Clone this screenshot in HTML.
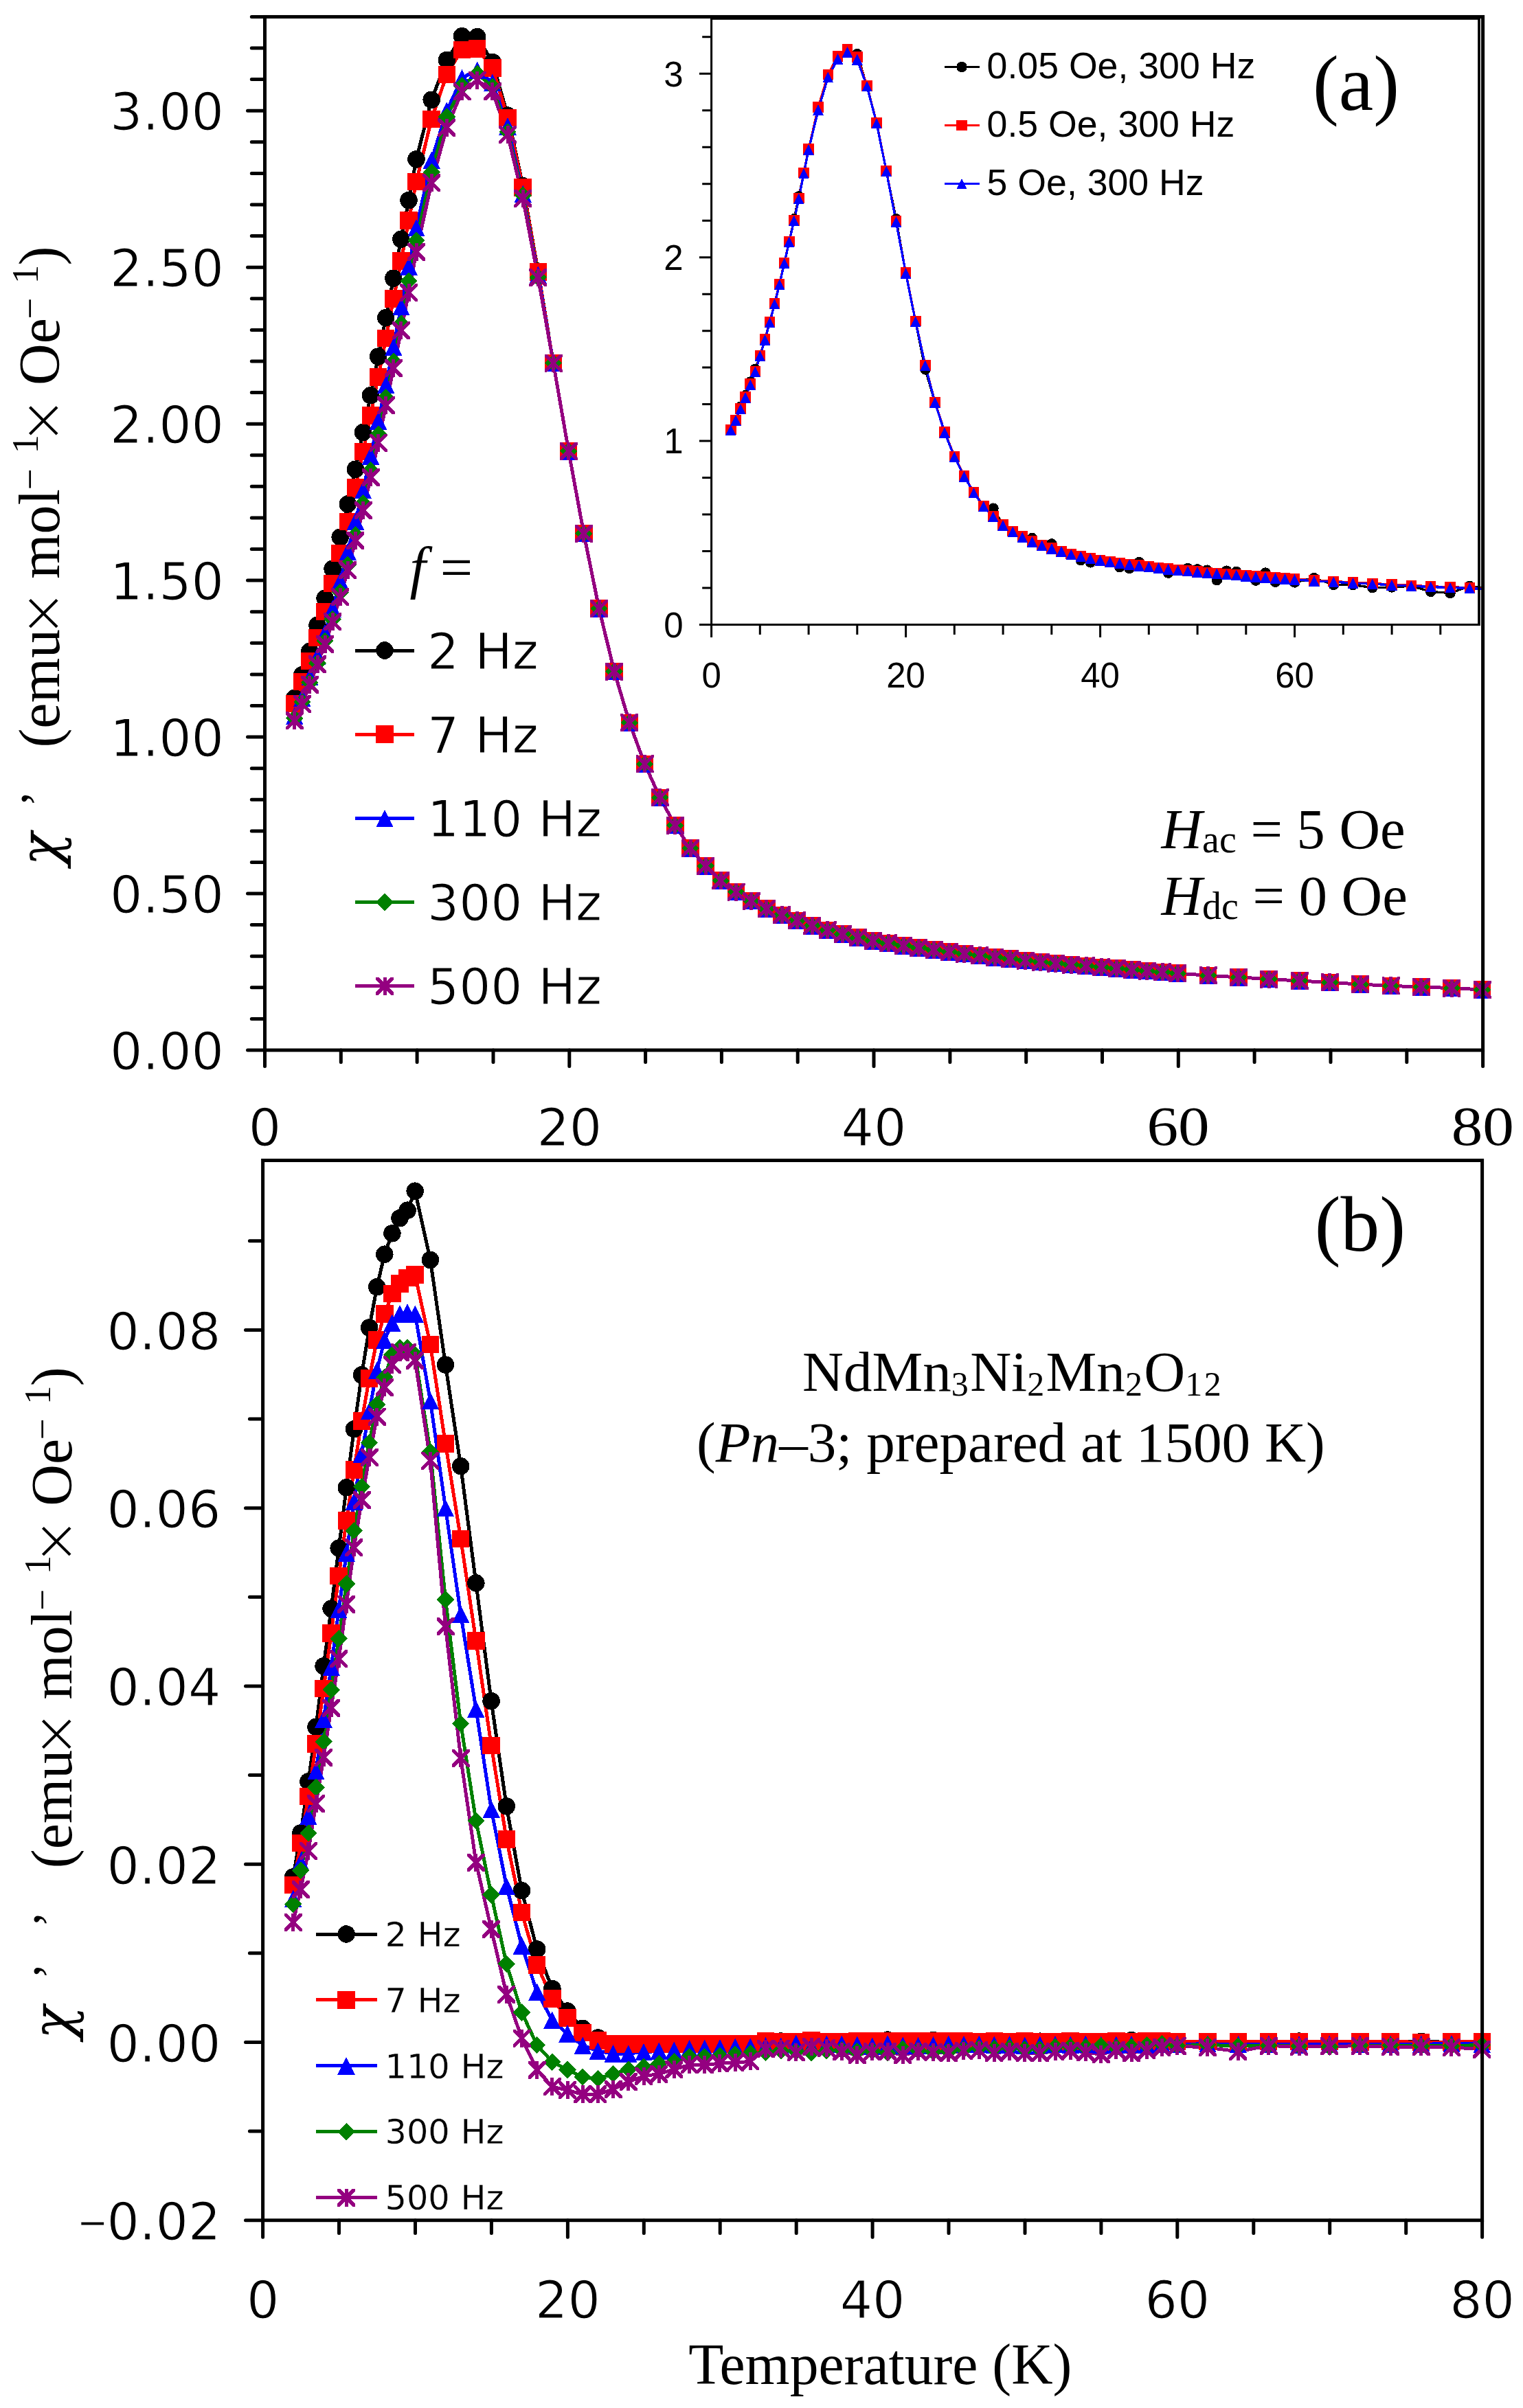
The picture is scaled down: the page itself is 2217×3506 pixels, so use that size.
<!DOCTYPE html>
<html lang="en"><head><meta charset="utf-8"><title>AC susceptibility of NdMn3Ni2Mn2O12</title>
<style>html,body{margin:0;padding:0;background:#fff}svg{display:block}.s{font-family:"DejaVu Sans","Liberation Sans",sans-serif;stroke:#fff;stroke-width:1.1px;paint-order:fill stroke}.t{font-family:"Liberation Serif",serif}.h{font-family:"Liberation Sans",sans-serif}.x{font-family:"DejaVu Sans Light","DejaVu Sans",sans-serif;font-weight:200}.c{font-family:"DejaVu Serif","Liberation Serif",serif;font-style:italic}.ax{stroke:#000;stroke-width:5;stroke-linecap:round;fill:none}.ix{stroke:#000;stroke-width:3;stroke-linecap:butt;fill:none}</style></head><body>
<svg width="2217" height="3506" viewBox="0 0 2217 3506">
<rect width="2217" height="3506" fill="#fff"/>
<defs><marker id="mk" markerUnits="userSpaceOnUse" markerWidth="33.5" markerHeight="33.5" refX="0" refY="0" viewBox="-16.75 -16.75 33.5 33.5" overflow="visible" shape-rendering="crispEdges"><circle r="12.75" fill="#000"/></marker><marker id="mr" markerUnits="userSpaceOnUse" markerWidth="33.5" markerHeight="33.5" refX="0" refY="0" viewBox="-16.75 -16.75 33.5 33.5" overflow="visible" shape-rendering="crispEdges"><rect x="-12.75" y="-12.75" width="25.50" height="25.50" fill="#f00"/></marker><marker id="mb" markerUnits="userSpaceOnUse" markerWidth="33.5" markerHeight="33.5" refX="0" refY="0" viewBox="-16.75 -16.75 33.5 33.5" overflow="visible" shape-rendering="crispEdges"><path d="M0 -12.75L12.75 12.75H-12.75Z" fill="#00f"/></marker><marker id="mg" markerUnits="userSpaceOnUse" markerWidth="33.5" markerHeight="33.5" refX="0" refY="0" viewBox="-16.75 -16.75 33.5 33.5" overflow="visible" shape-rendering="crispEdges"><path d="M0 -12.75L12.75 0L0 12.75L-12.75 0Z" fill="#008000"/></marker><marker id="mp" markerUnits="userSpaceOnUse" markerWidth="33.5" markerHeight="33.5" refX="0" refY="0" viewBox="-16.75 -16.75 33.5 33.5" overflow="visible" shape-rendering="crispEdges"><path d="M-13.00 -13.00h3.80L13.00 9.20v3.80h-3.80L-13.00 -9.20ZM13.00 -13.00v3.80L-9.20 13.00h-3.80v-3.80L9.20 -13.00ZM-2.50 -13.00h5v26.00h-5Z" fill="#940080"/></marker><marker id="nk" markerUnits="userSpaceOnUse" markerWidth="23.6" markerHeight="23.6" refX="0" refY="0" viewBox="-11.8 -11.8 23.6 23.6" overflow="visible" shape-rendering="crispEdges"><circle r="7.80" fill="#000"/></marker><marker id="nr" markerUnits="userSpaceOnUse" markerWidth="23.6" markerHeight="23.6" refX="0" refY="0" viewBox="-11.8 -11.8 23.6 23.6" overflow="visible" shape-rendering="crispEdges"><rect x="-7.80" y="-7.80" width="15.60" height="15.60" fill="#f00"/></marker><marker id="nb" markerUnits="userSpaceOnUse" markerWidth="23.6" markerHeight="23.6" refX="0" refY="0" viewBox="-11.8 -11.8 23.6 23.6" overflow="visible" shape-rendering="crispEdges"><path d="M0 -7.80L7.80 7.80H-7.80Z" fill="#00f"/></marker><marker id="ng" markerUnits="userSpaceOnUse" markerWidth="23.6" markerHeight="23.6" refX="0" refY="0" viewBox="-11.8 -11.8 23.6 23.6" overflow="visible" shape-rendering="crispEdges"><path d="M0 -7.80L7.80 0L0 7.80L-7.80 0Z" fill="#008000"/></marker><marker id="np" markerUnits="userSpaceOnUse" markerWidth="23.6" markerHeight="23.6" refX="0" refY="0" viewBox="-11.8 -11.8 23.6 23.6" overflow="visible" shape-rendering="crispEdges"><path d="M-8.05 -8.05h2.28L8.05 5.77v2.28h-2.28L-8.05 -5.77ZM8.05 -8.05v2.28L-5.77 8.05h-2.28v-2.28L5.77 -8.05ZM-1.50 -8.05h3v16.10h-3Z" fill="#940080"/></marker></defs>
<polyline shape-rendering="crispEdges" points="428.7,1016.5 439.8,982.8 450.9,948.2 462.0,910.3 473.1,871.1 484.1,828.2 495.2,782.2 506.3,733.9 517.4,683.3 528.5,629.5 539.5,575.7 550.6,519.1 561.7,462.6 572.8,405.1 583.9,348.2 595.0,291.6 606.0,231.9 628.2,145.3 650.4,87.4 672.5,52.7 694.7,53.6 716.9,90.6 739.0,168.1 761.2,270.6 783.3,395.1 805.5,528.7 827.7,656.8 849.8,776.7 872.0,886.1 894.2,977.5 916.3,1052.3 938.5,1112.4 960.7,1161.3 982.8,1201.7 1005.0,1235.2 1027.1,1260.8 1049.3,1282.2 1071.5,1298.6 1093.6,1311.7 1115.8,1323.2 1138.0,1332.4 1160.1,1340.3 1182.3,1347.8 1204.5,1354.4 1226.6,1360.0 1248.8,1365.2 1270.9,1369.8 1293.1,1373.4 1315.3,1376.8 1337.4,1380.0 1359.6,1383.1 1381.8,1386.0 1403.9,1388.7 1426.1,1391.3 1448.3,1393.8 1470.4,1396.1 1492.6,1398.5 1514.8,1400.6 1536.9,1402.6 1559.1,1404.5 1581.2,1406.4 1603.4,1408.3 1625.6,1410.1 1647.7,1411.9 1669.9,1413.7 1692.1,1415.4 1714.2,1417.1 1758.6,1420.3 1802.9,1422.9 1847.2,1425.5 1891.5,1428.1 1935.9,1430.4 1980.2,1433.1 2024.5,1435.4 2068.8,1437.0 2113.2,1438.6 2157.5,1440.9" fill="none" stroke="#000" stroke-width="5" stroke-linejoin="round"/>
<polyline shape-rendering="crispEdges" points="428.7,1024.7 439.8,992.4 450.9,962.7 462.0,928.5 473.1,890.7 484.1,849.7 495.2,805.4 506.3,759.4 517.4,710.2 528.5,657.7 539.5,604.8 550.6,549.2 561.7,492.7 572.8,435.2 583.9,380.1 595.0,320.8 606.0,264.7 628.2,173.5 650.4,108.3 672.5,72.3 694.7,71.0 716.9,98.8 739.0,171.3 761.2,272.9 783.3,396.0 805.5,528.7 827.7,656.8 849.8,776.7 872.0,886.1 894.2,977.5 916.3,1052.3 938.5,1112.4 960.7,1161.3 982.8,1201.7 1005.0,1235.2 1027.1,1260.8 1049.3,1282.2 1071.5,1298.6 1093.6,1311.7 1115.8,1323.2 1138.0,1332.4 1160.1,1340.3 1182.3,1347.8 1204.5,1354.4 1226.6,1360.0 1248.8,1365.2 1270.9,1369.8 1293.1,1373.4 1315.3,1376.8 1337.4,1380.0 1359.6,1383.1 1381.8,1386.0 1403.9,1388.7 1426.1,1391.3 1448.3,1393.8 1470.4,1396.1 1492.6,1398.5 1514.8,1400.6 1536.9,1402.6 1559.1,1404.5 1581.2,1406.4 1603.4,1408.3 1625.6,1410.1 1647.7,1411.9 1669.9,1413.7 1692.1,1415.4 1714.2,1417.1 1758.6,1420.3 1802.9,1422.9 1847.2,1425.5 1891.5,1428.1 1935.9,1430.4 1980.2,1433.1 2024.5,1435.4 2068.8,1437.0 2113.2,1438.6 2157.5,1440.9" fill="none" stroke="#f00" stroke-width="5" stroke-linejoin="round"/>
<polyline shape-rendering="crispEdges" points="428.7,1042.1 439.8,1016.1 450.9,985.5 462.0,955.4 473.1,921.7 484.1,886.1 495.2,846.0 506.3,803.6 517.4,758.9 528.5,713.4 539.5,664.1 550.6,613.0 561.7,560.6 572.8,505.0 583.9,446.6 595.0,387.8 606.0,331.7 628.2,233.3 650.4,161.2 672.5,113.4 694.7,102.0 716.9,120.2 739.0,184.0 761.2,282.0 783.3,400.6 805.5,528.7 827.7,656.8 849.8,776.7 872.0,886.1 894.2,977.5 916.3,1052.3 938.5,1112.4 960.7,1161.3 982.8,1201.7 1005.0,1235.2 1027.1,1260.8 1049.3,1282.2 1071.5,1298.6 1093.6,1311.7 1115.8,1323.2 1138.0,1332.4 1160.1,1340.3 1182.3,1347.8 1204.5,1354.4 1226.6,1360.0 1248.8,1365.2 1270.9,1369.8 1293.1,1373.4 1315.3,1376.8 1337.4,1380.0 1359.6,1383.1 1381.8,1386.0 1403.9,1388.7 1426.1,1391.3 1448.3,1393.8 1470.4,1396.1 1492.6,1398.5 1514.8,1400.6 1536.9,1402.6 1559.1,1404.5 1581.2,1406.4 1603.4,1408.3 1625.6,1410.1 1647.7,1411.9 1669.9,1413.7 1692.1,1415.4 1714.2,1417.1 1758.6,1420.3 1802.9,1422.9 1847.2,1425.5 1891.5,1428.1 1935.9,1430.4 1980.2,1433.1 2024.5,1435.4 2068.8,1437.0 2113.2,1438.6 2157.5,1440.9" fill="none" stroke="#00f" stroke-width="5" stroke-linejoin="round"/>
<polyline shape-rendering="crispEdges" points="428.7,1045.7 439.8,1022.0 450.9,993.7 462.0,965.5 473.1,933.1 484.1,901.6 495.2,862.4 506.3,822.3 517.4,778.5 528.5,733.0 539.5,684.6 550.6,632.2 561.7,578.9 572.8,526.4 583.9,471.3 595.0,408.8 606.0,350.0 628.2,250.6 650.4,169.9 672.5,124.8 694.7,107.4 716.9,126.1 739.0,192.2 761.2,284.3 783.3,403.8 805.5,528.7 827.7,656.8 849.8,776.7 872.0,886.1 894.2,977.5 916.3,1052.3 938.5,1112.4 960.7,1161.3 982.8,1201.7 1005.0,1235.2 1027.1,1260.8 1049.3,1282.2 1071.5,1298.6 1093.6,1311.7 1115.8,1323.2 1138.0,1332.4 1160.1,1340.3 1182.3,1347.8 1204.5,1354.4 1226.6,1360.0 1248.8,1365.2 1270.9,1369.8 1293.1,1373.4 1315.3,1376.8 1337.4,1380.0 1359.6,1383.1 1381.8,1386.0 1403.9,1388.7 1426.1,1391.3 1448.3,1393.8 1470.4,1396.1 1492.6,1398.5 1514.8,1400.6 1536.9,1402.6 1559.1,1404.5 1581.2,1406.4 1603.4,1408.3 1625.6,1410.1 1647.7,1411.9 1669.9,1413.7 1692.1,1415.4 1714.2,1417.1 1758.6,1420.3 1802.9,1422.9 1847.2,1425.5 1891.5,1428.1 1935.9,1430.4 1980.2,1433.1 2024.5,1435.4 2068.8,1437.0 2113.2,1438.6 2157.5,1440.9" fill="none" stroke="#008000" stroke-width="5" stroke-linejoin="round"/>
<polyline shape-rendering="crispEdges" points="428.7,1049.4 439.8,1024.7 450.9,996.5 462.0,967.3 473.1,937.7 484.1,905.3 495.2,869.3 506.3,830.1 517.4,787.2 528.5,743.0 539.5,695.1 550.6,644.5 561.7,590.3 572.8,536.0 583.9,481.3 595.0,426.1 606.0,366.8 628.2,266.1 650.4,185.8 672.5,133.4 694.7,116.5 716.9,133.4 739.0,195.9 761.2,288.9 783.3,404.2 805.5,528.7 827.7,656.8 849.8,776.7 872.0,886.1 894.2,977.5 916.3,1052.3 938.5,1112.4 960.7,1161.3 982.8,1201.7 1005.0,1235.2 1027.1,1260.8 1049.3,1282.2 1071.5,1298.6 1093.6,1311.7 1115.8,1323.2 1138.0,1332.4 1160.1,1340.3 1182.3,1347.8 1204.5,1354.4 1226.6,1360.0 1248.8,1365.2 1270.9,1369.8 1293.1,1373.4 1315.3,1376.8 1337.4,1380.0 1359.6,1383.1 1381.8,1386.0 1403.9,1388.7 1426.1,1391.3 1448.3,1393.8 1470.4,1396.1 1492.6,1398.5 1514.8,1400.6 1536.9,1402.6 1559.1,1404.5 1581.2,1406.4 1603.4,1408.3 1625.6,1410.1 1647.7,1411.9 1669.9,1413.7 1692.1,1415.4 1714.2,1417.1 1758.6,1420.3 1802.9,1422.9 1847.2,1425.5 1891.5,1428.1 1935.9,1430.4 1980.2,1433.1 2024.5,1435.4 2068.8,1437.0 2113.2,1438.6 2157.5,1440.9" fill="none" stroke="#940080" stroke-width="5" stroke-linejoin="round"/>
<polyline points="428.7,1016.5 439.8,982.8 450.9,948.2 462.0,910.3 473.1,871.1 484.1,828.2 495.2,782.2 506.3,733.9 517.4,683.3 528.5,629.5 539.5,575.7 550.6,519.1 561.7,462.6 572.8,405.1 583.9,348.2 595.0,291.6 606.0,231.9 628.2,145.3 650.4,87.4 672.5,52.7 694.7,53.6 716.9,90.6 739.0,168.1 761.2,270.6 783.3,395.1 805.5,528.7 827.7,656.8 849.8,776.7 872.0,886.1 894.2,977.5 916.3,1052.3 938.5,1112.4 960.7,1161.3 982.8,1201.7 1005.0,1235.2 1027.1,1260.8 1049.3,1282.2 1071.5,1298.6 1093.6,1311.7 1115.8,1323.2 1138.0,1332.4 1160.1,1340.3 1182.3,1347.8 1204.5,1354.4 1226.6,1360.0 1248.8,1365.2 1270.9,1369.8 1293.1,1373.4 1315.3,1376.8 1337.4,1380.0 1359.6,1383.1 1381.8,1386.0 1403.9,1388.7 1426.1,1391.3 1448.3,1393.8 1470.4,1396.1 1492.6,1398.5 1514.8,1400.6 1536.9,1402.6 1559.1,1404.5 1581.2,1406.4 1603.4,1408.3 1625.6,1410.1 1647.7,1411.9 1669.9,1413.7 1692.1,1415.4 1714.2,1417.1 1758.6,1420.3 1802.9,1422.9 1847.2,1425.5 1891.5,1428.1 1935.9,1430.4 1980.2,1433.1 2024.5,1435.4 2068.8,1437.0 2113.2,1438.6 2157.5,1440.9" fill="none" stroke="none" marker-mid="url(#mk)" marker-start="url(#mk)" marker-end="url(#mk)"/>
<polyline points="428.7,1024.7 439.8,992.4 450.9,962.7 462.0,928.5 473.1,890.7 484.1,849.7 495.2,805.4 506.3,759.4 517.4,710.2 528.5,657.7 539.5,604.8 550.6,549.2 561.7,492.7 572.8,435.2 583.9,380.1 595.0,320.8 606.0,264.7 628.2,173.5 650.4,108.3 672.5,72.3 694.7,71.0 716.9,98.8 739.0,171.3 761.2,272.9 783.3,396.0 805.5,528.7 827.7,656.8 849.8,776.7 872.0,886.1 894.2,977.5 916.3,1052.3 938.5,1112.4 960.7,1161.3 982.8,1201.7 1005.0,1235.2 1027.1,1260.8 1049.3,1282.2 1071.5,1298.6 1093.6,1311.7 1115.8,1323.2 1138.0,1332.4 1160.1,1340.3 1182.3,1347.8 1204.5,1354.4 1226.6,1360.0 1248.8,1365.2 1270.9,1369.8 1293.1,1373.4 1315.3,1376.8 1337.4,1380.0 1359.6,1383.1 1381.8,1386.0 1403.9,1388.7 1426.1,1391.3 1448.3,1393.8 1470.4,1396.1 1492.6,1398.5 1514.8,1400.6 1536.9,1402.6 1559.1,1404.5 1581.2,1406.4 1603.4,1408.3 1625.6,1410.1 1647.7,1411.9 1669.9,1413.7 1692.1,1415.4 1714.2,1417.1 1758.6,1420.3 1802.9,1422.9 1847.2,1425.5 1891.5,1428.1 1935.9,1430.4 1980.2,1433.1 2024.5,1435.4 2068.8,1437.0 2113.2,1438.6 2157.5,1440.9" fill="none" stroke="none" marker-mid="url(#mr)" marker-start="url(#mr)" marker-end="url(#mr)"/>
<polyline points="428.7,1042.1 439.8,1016.1 450.9,985.5 462.0,955.4 473.1,921.7 484.1,886.1 495.2,846.0 506.3,803.6 517.4,758.9 528.5,713.4 539.5,664.1 550.6,613.0 561.7,560.6 572.8,505.0 583.9,446.6 595.0,387.8 606.0,331.7 628.2,233.3 650.4,161.2 672.5,113.4 694.7,102.0 716.9,120.2 739.0,184.0 761.2,282.0 783.3,400.6 805.5,528.7 827.7,656.8 849.8,776.7 872.0,886.1 894.2,977.5 916.3,1052.3 938.5,1112.4 960.7,1161.3 982.8,1201.7 1005.0,1235.2 1027.1,1260.8 1049.3,1282.2 1071.5,1298.6 1093.6,1311.7 1115.8,1323.2 1138.0,1332.4 1160.1,1340.3 1182.3,1347.8 1204.5,1354.4 1226.6,1360.0 1248.8,1365.2 1270.9,1369.8 1293.1,1373.4 1315.3,1376.8 1337.4,1380.0 1359.6,1383.1 1381.8,1386.0 1403.9,1388.7 1426.1,1391.3 1448.3,1393.8 1470.4,1396.1 1492.6,1398.5 1514.8,1400.6 1536.9,1402.6 1559.1,1404.5 1581.2,1406.4 1603.4,1408.3 1625.6,1410.1 1647.7,1411.9 1669.9,1413.7 1692.1,1415.4 1714.2,1417.1 1758.6,1420.3 1802.9,1422.9 1847.2,1425.5 1891.5,1428.1 1935.9,1430.4 1980.2,1433.1 2024.5,1435.4 2068.8,1437.0 2113.2,1438.6 2157.5,1440.9" fill="none" stroke="none" marker-mid="url(#mb)" marker-start="url(#mb)" marker-end="url(#mb)"/>
<polyline points="428.7,1045.7 439.8,1022.0 450.9,993.7 462.0,965.5 473.1,933.1 484.1,901.6 495.2,862.4 506.3,822.3 517.4,778.5 528.5,733.0 539.5,684.6 550.6,632.2 561.7,578.9 572.8,526.4 583.9,471.3 595.0,408.8 606.0,350.0 628.2,250.6 650.4,169.9 672.5,124.8 694.7,107.4 716.9,126.1 739.0,192.2 761.2,284.3 783.3,403.8 805.5,528.7 827.7,656.8 849.8,776.7 872.0,886.1 894.2,977.5 916.3,1052.3 938.5,1112.4 960.7,1161.3 982.8,1201.7 1005.0,1235.2 1027.1,1260.8 1049.3,1282.2 1071.5,1298.6 1093.6,1311.7 1115.8,1323.2 1138.0,1332.4 1160.1,1340.3 1182.3,1347.8 1204.5,1354.4 1226.6,1360.0 1248.8,1365.2 1270.9,1369.8 1293.1,1373.4 1315.3,1376.8 1337.4,1380.0 1359.6,1383.1 1381.8,1386.0 1403.9,1388.7 1426.1,1391.3 1448.3,1393.8 1470.4,1396.1 1492.6,1398.5 1514.8,1400.6 1536.9,1402.6 1559.1,1404.5 1581.2,1406.4 1603.4,1408.3 1625.6,1410.1 1647.7,1411.9 1669.9,1413.7 1692.1,1415.4 1714.2,1417.1 1758.6,1420.3 1802.9,1422.9 1847.2,1425.5 1891.5,1428.1 1935.9,1430.4 1980.2,1433.1 2024.5,1435.4 2068.8,1437.0 2113.2,1438.6 2157.5,1440.9" fill="none" stroke="none" marker-mid="url(#mg)" marker-start="url(#mg)" marker-end="url(#mg)"/>
<polyline points="428.7,1049.4 439.8,1024.7 450.9,996.5 462.0,967.3 473.1,937.7 484.1,905.3 495.2,869.3 506.3,830.1 517.4,787.2 528.5,743.0 539.5,695.1 550.6,644.5 561.7,590.3 572.8,536.0 583.9,481.3 595.0,426.1 606.0,366.8 628.2,266.1 650.4,185.8 672.5,133.4 694.7,116.5 716.9,133.4 739.0,195.9 761.2,288.9 783.3,404.2 805.5,528.7 827.7,656.8 849.8,776.7 872.0,886.1 894.2,977.5 916.3,1052.3 938.5,1112.4 960.7,1161.3 982.8,1201.7 1005.0,1235.2 1027.1,1260.8 1049.3,1282.2 1071.5,1298.6 1093.6,1311.7 1115.8,1323.2 1138.0,1332.4 1160.1,1340.3 1182.3,1347.8 1204.5,1354.4 1226.6,1360.0 1248.8,1365.2 1270.9,1369.8 1293.1,1373.4 1315.3,1376.8 1337.4,1380.0 1359.6,1383.1 1381.8,1386.0 1403.9,1388.7 1426.1,1391.3 1448.3,1393.8 1470.4,1396.1 1492.6,1398.5 1514.8,1400.6 1536.9,1402.6 1559.1,1404.5 1581.2,1406.4 1603.4,1408.3 1625.6,1410.1 1647.7,1411.9 1669.9,1413.7 1692.1,1415.4 1714.2,1417.1 1758.6,1420.3 1802.9,1422.9 1847.2,1425.5 1891.5,1428.1 1935.9,1430.4 1980.2,1433.1 2024.5,1435.4 2068.8,1437.0 2113.2,1438.6 2157.5,1440.9" fill="none" stroke="none" marker-mid="url(#mp)" marker-start="url(#mp)" marker-end="url(#mp)"/>
<clipPath id="ic"><rect x="1035.6" y="27.0" width="1125.4" height="882.5"/></clipPath>
<polyline clip-path="url(#ic)" shape-rendering="crispEdges" points="1063.9,626.1 1071.0,612.2 1078.0,592.4 1085.1,575.8 1092.2,556.0 1099.3,537.5 1106.3,518.6 1113.4,495.0 1120.5,469.4 1127.6,442.6 1134.6,414.3 1141.7,383.5 1148.8,352.2 1155.9,318.8 1162.9,285.9 1170.0,252.5 1177.1,218.0 1191.2,159.7 1205.4,112.4 1219.5,85.9 1233.7,75.7 1247.8,78.7 1262.0,125.5 1276.1,179.5 1290.3,249.6 1304.4,318.8 1318.6,398.0 1332.8,468.3 1346.9,537.8 1361.0,586.1 1375.2,629.9 1389.3,665.1 1403.5,693.9 1417.6,717.5 1431.8,737.2 1445.9,740.2 1460.1,764.7 1474.2,774.4 1488.4,782.1 1502.5,783.4 1516.7,794.2 1530.8,791.9 1545.0,803.2 1559.2,807.1 1573.3,815.7 1587.4,818.8 1601.6,816.1 1615.8,818.3 1629.9,825.6 1644.0,827.5 1658.2,818.6 1672.3,825.6 1686.5,827.2 1700.7,834.1 1714.8,830.2 1728.9,827.6 1743.1,828.9 1757.2,830.2 1771.4,844.7 1785.5,831.2 1799.7,832.3 1813.8,838.7 1828.0,845.1 1842.2,834.1 1856.3,847.2 1870.4,842.9 1884.6,847.9 1912.9,841.7 1941.2,851.3 1969.5,851.5 1997.8,855.7 2026.1,854.9 2054.4,853.2 2082.7,861.3 2111.0,863.6 2139.3,853.3 2167.6,857.8" fill="none" stroke="#000" stroke-width="3.3" stroke-linejoin="round"/>
<polyline clip-path="url(#ic)" shape-rendering="crispEdges" points="1063.9,625.3 1071.0,611.3 1078.0,594.8 1085.1,578.2 1092.2,559.2 1099.3,540.8 1106.3,517.8 1113.4,494.2 1120.5,468.6 1127.6,441.8 1134.6,413.5 1141.7,382.7 1148.8,351.4 1155.9,320.7 1162.9,288.3 1170.0,251.7 1177.1,217.2 1191.2,155.7 1205.4,108.4 1219.5,81.9 1233.7,71.7 1247.8,82.7 1262.0,124.7 1276.1,178.7 1290.3,248.8 1304.4,322.0 1318.6,397.2 1332.8,467.5 1346.9,531.7 1361.0,585.3 1375.2,629.1 1389.3,664.3 1403.5,693.1 1417.6,716.7 1431.8,736.4 1445.9,751.4 1460.1,763.9 1474.2,773.6 1488.4,781.3 1502.5,788.0 1516.7,793.4 1530.8,798.0 1545.0,802.4 1559.2,806.3 1573.3,809.6 1587.4,812.6 1601.6,815.3 1615.8,817.5 1629.9,819.4 1644.0,821.3 1658.2,823.1 1672.3,824.8 1686.5,826.4 1700.7,827.9 1714.8,829.4 1728.9,830.8 1743.1,832.1 1757.2,833.4 1771.4,834.5 1785.5,835.7 1799.7,836.8 1813.8,837.9 1828.0,839.0 1842.2,840.0 1856.3,841.0 1870.4,842.1 1884.6,843.1 1912.9,844.9 1941.2,846.5 1969.5,848.0 1997.8,849.5 2026.1,850.9 2054.4,852.4 2082.7,853.8 2111.0,854.7 2139.3,855.7 2167.6,857.0" fill="none" stroke="#f00" stroke-width="3.3" stroke-linejoin="round"/>
<polyline clip-path="url(#ic)" shape-rendering="crispEdges" points="1063.9,626.1 1071.0,612.2 1078.0,595.6 1085.1,579.0 1092.2,560.0 1099.3,541.6 1106.3,518.6 1113.4,495.0 1120.5,469.4 1127.6,442.6 1134.6,414.3 1141.7,383.5 1148.8,352.2 1155.9,321.5 1162.9,289.1 1170.0,252.5 1177.1,218.0 1191.2,159.7 1205.4,112.4 1219.5,85.9 1233.7,75.7 1247.8,86.7 1262.0,125.5 1276.1,179.5 1290.3,249.6 1304.4,322.8 1318.6,398.0 1332.8,468.3 1346.9,532.5 1361.0,586.1 1375.2,629.9 1389.3,665.1 1403.5,693.9 1417.6,717.5 1431.8,737.2 1445.9,752.2 1460.1,764.7 1474.2,774.4 1488.4,782.1 1502.5,788.8 1516.7,794.2 1530.8,798.8 1545.0,803.2 1559.2,807.1 1573.3,810.4 1587.4,813.4 1601.6,816.1 1615.8,818.3 1629.9,820.2 1644.0,822.1 1658.2,823.9 1672.3,825.6 1686.5,827.2 1700.7,828.7 1714.8,830.2 1728.9,831.6 1743.1,832.9 1757.2,834.2 1771.4,835.3 1785.5,836.5 1799.7,837.6 1813.8,838.7 1828.0,839.8 1842.2,840.8 1856.3,841.8 1870.4,842.9 1884.6,843.9 1912.9,845.8 1941.2,847.3 1969.5,848.8 1997.8,850.3 2026.1,851.7 2054.4,853.2 2082.7,854.6 2111.0,855.5 2139.3,856.5 2167.6,857.8" fill="none" stroke="#00f" stroke-width="3.3" stroke-linejoin="round"/>
<polyline clip-path="url(#ic)" points="1063.9,626.1 1071.0,612.2 1078.0,592.4 1085.1,575.8 1092.2,556.0 1099.3,537.5 1106.3,518.6 1113.4,495.0 1120.5,469.4 1127.6,442.6 1134.6,414.3 1141.7,383.5 1148.8,352.2 1155.9,318.8 1162.9,285.9 1170.0,252.5 1177.1,218.0 1191.2,159.7 1205.4,112.4 1219.5,85.9 1233.7,75.7 1247.8,78.7 1262.0,125.5 1276.1,179.5 1290.3,249.6 1304.4,318.8 1318.6,398.0 1332.8,468.3 1346.9,537.8 1361.0,586.1 1375.2,629.9 1389.3,665.1 1403.5,693.9 1417.6,717.5 1431.8,737.2 1445.9,740.2 1460.1,764.7 1474.2,774.4 1488.4,782.1 1502.5,783.4 1516.7,794.2 1530.8,791.9 1545.0,803.2 1559.2,807.1 1573.3,815.7 1587.4,818.8 1601.6,816.1 1615.8,818.3 1629.9,825.6 1644.0,827.5 1658.2,818.6 1672.3,825.6 1686.5,827.2 1700.7,834.1 1714.8,830.2 1728.9,827.6 1743.1,828.9 1757.2,830.2 1771.4,844.7 1785.5,831.2 1799.7,832.3 1813.8,838.7 1828.0,845.1 1842.2,834.1 1856.3,847.2 1870.4,842.9 1884.6,847.9 1912.9,841.7 1941.2,851.3 1969.5,851.5 1997.8,855.7 2026.1,854.9 2054.4,853.2 2082.7,861.3 2111.0,863.6 2139.3,853.3 2167.6,857.8" fill="none" stroke="none" marker-mid="url(#nk)" marker-start="url(#nk)" marker-end="url(#nk)"/>
<polyline clip-path="url(#ic)" points="1063.9,625.3 1071.0,611.3 1078.0,594.8 1085.1,578.2 1092.2,559.2 1099.3,540.8 1106.3,517.8 1113.4,494.2 1120.5,468.6 1127.6,441.8 1134.6,413.5 1141.7,382.7 1148.8,351.4 1155.9,320.7 1162.9,288.3 1170.0,251.7 1177.1,217.2 1191.2,155.7 1205.4,108.4 1219.5,81.9 1233.7,71.7 1247.8,82.7 1262.0,124.7 1276.1,178.7 1290.3,248.8 1304.4,322.0 1318.6,397.2 1332.8,467.5 1346.9,531.7 1361.0,585.3 1375.2,629.1 1389.3,664.3 1403.5,693.1 1417.6,716.7 1431.8,736.4 1445.9,751.4 1460.1,763.9 1474.2,773.6 1488.4,781.3 1502.5,788.0 1516.7,793.4 1530.8,798.0 1545.0,802.4 1559.2,806.3 1573.3,809.6 1587.4,812.6 1601.6,815.3 1615.8,817.5 1629.9,819.4 1644.0,821.3 1658.2,823.1 1672.3,824.8 1686.5,826.4 1700.7,827.9 1714.8,829.4 1728.9,830.8 1743.1,832.1 1757.2,833.4 1771.4,834.5 1785.5,835.7 1799.7,836.8 1813.8,837.9 1828.0,839.0 1842.2,840.0 1856.3,841.0 1870.4,842.1 1884.6,843.1 1912.9,844.9 1941.2,846.5 1969.5,848.0 1997.8,849.5 2026.1,850.9 2054.4,852.4 2082.7,853.8 2111.0,854.7 2139.3,855.7 2167.6,857.0" fill="none" stroke="none" marker-mid="url(#nr)" marker-start="url(#nr)" marker-end="url(#nr)"/>
<polyline clip-path="url(#ic)" points="1063.9,626.1 1071.0,612.2 1078.0,595.6 1085.1,579.0 1092.2,560.0 1099.3,541.6 1106.3,518.6 1113.4,495.0 1120.5,469.4 1127.6,442.6 1134.6,414.3 1141.7,383.5 1148.8,352.2 1155.9,321.5 1162.9,289.1 1170.0,252.5 1177.1,218.0 1191.2,159.7 1205.4,112.4 1219.5,85.9 1233.7,75.7 1247.8,86.7 1262.0,125.5 1276.1,179.5 1290.3,249.6 1304.4,322.8 1318.6,398.0 1332.8,468.3 1346.9,532.5 1361.0,586.1 1375.2,629.9 1389.3,665.1 1403.5,693.9 1417.6,717.5 1431.8,737.2 1445.9,752.2 1460.1,764.7 1474.2,774.4 1488.4,782.1 1502.5,788.8 1516.7,794.2 1530.8,798.8 1545.0,803.2 1559.2,807.1 1573.3,810.4 1587.4,813.4 1601.6,816.1 1615.8,818.3 1629.9,820.2 1644.0,822.1 1658.2,823.9 1672.3,825.6 1686.5,827.2 1700.7,828.7 1714.8,830.2 1728.9,831.6 1743.1,832.9 1757.2,834.2 1771.4,835.3 1785.5,836.5 1799.7,837.6 1813.8,838.7 1828.0,839.8 1842.2,840.8 1856.3,841.8 1870.4,842.9 1884.6,843.9 1912.9,845.8 1941.2,847.3 1969.5,848.8 1997.8,850.3 2026.1,851.7 2054.4,853.2 2082.7,854.6 2111.0,855.5 2139.3,856.5 2167.6,857.8" fill="none" stroke="none" marker-mid="url(#nb)" marker-start="url(#nb)" marker-end="url(#nb)"/>
<path class="ix" d="M1035.6 27.0V911.0M1034.1 909.5H2153.0"/>
<path class="ix" style="stroke-width:3.7" d="M1034.1 27.0H2154.85M2153.0 27.0V911.0"/>
<path class="ix" d="M1035.6 909.5H1017.9M1035.6 856.0H1022.2M1035.6 802.5H1022.2M1035.6 749.1H1022.2M1035.6 695.6H1022.2M1035.6 642.1H1017.9M1035.6 588.6H1022.2M1035.6 535.1H1022.2M1035.6 481.7H1022.2M1035.6 428.2H1022.2M1035.6 374.7H1017.9M1035.6 321.2H1022.2M1035.6 267.7H1022.2M1035.6 214.3H1022.2M1035.6 160.8H1022.2M1035.6 107.3H1017.9M1035.6 53.8H1022.2M1035.6 909.5V928M1106.3 909.5V924M1177.1 909.5V924M1247.8 909.5V924M1318.6 909.5V928M1389.3 909.5V924M1460.1 909.5V924M1530.8 909.5V924M1601.6 909.5V928M1672.3 909.5V924M1743.1 909.5V924M1813.8 909.5V924M1884.6 909.5V928M1955.3 909.5V924M2026.1 909.5V924M2096.8 909.5V924"/>
<rect class="ax" x="385.5" y="24.45" width="1773.1" height="1504.55"/>
<path class="ax" d="M385.5 1529.0H360.5M385.5 1483.4H366.3M385.5 1437.8H366.3M385.5 1392.2H366.3M385.5 1346.6H366.3M385.5 1301.0H360.5M385.5 1255.4H366.3M385.5 1209.9H366.3M385.5 1164.3H366.3M385.5 1118.7H366.3M385.5 1073.1H360.5M385.5 1027.5H366.3M385.5 981.9H366.3M385.5 936.3H366.3M385.5 890.7H366.3M385.5 845.1H360.5M385.5 799.5H366.3M385.5 753.9H366.3M385.5 708.3H366.3M385.5 662.7H366.3M385.5 617.2H360.5M385.5 571.6H366.3M385.5 526.0H366.3M385.5 480.4H366.3M385.5 434.8H366.3M385.5 389.2H360.5M385.5 343.6H366.3M385.5 298.0H366.3M385.5 252.4H366.3M385.5 206.8H366.3M385.5 161.2H360.5M385.5 115.6H366.3M385.5 70.0H366.3M385.5 24.4H366.3M385.5 1529.0V1552.5M496.3 1529.0V1546.5M607.1 1529.0V1546.5M718.0 1529.0V1546.5M828.8 1529.0V1552.5M939.6 1529.0V1546.5M1050.4 1529.0V1546.5M1161.2 1529.0V1546.5M1272.0 1529.0V1552.5M1382.9 1529.0V1546.5M1493.7 1529.0V1546.5M1604.5 1529.0V1546.5M1715.3 1529.0V1552.5M1826.1 1529.0V1546.5M1937.0 1529.0V1546.5M2047.8 1529.0V1546.5M2158.6 1529.0V1552.5"/>
<text class="s" x="326" y="1556.5" font-size="74.5" text-anchor="end">0.00</text>
<text class="s" x="326" y="1328.5" font-size="74.5" text-anchor="end">0.50</text>
<text class="s" x="326" y="1100.6" font-size="74.5" text-anchor="end">1.00</text>
<text class="s" x="326" y="872.6" font-size="74.5" text-anchor="end">1.50</text>
<text class="s" x="326" y="644.7" font-size="74.5" text-anchor="end">2.00</text>
<text class="s" x="326" y="416.7" font-size="74.5" text-anchor="end">2.50</text>
<text class="s" x="326" y="188.7" font-size="74.5" text-anchor="end">3.00</text>
<text class="s" x="385.5" y="1668" font-size="74.5" text-anchor="middle">0</text>
<text class="s" x="828.8" y="1668" font-size="74.5" text-anchor="middle">20</text>
<text class="s" x="1272.0" y="1668" font-size="74.5" text-anchor="middle">40</text>
<text class="t" transform="translate(1715.0,1667) scale(1.14,1)" font-size="80" text-anchor="middle">60</text>
<text class="t" transform="translate(2158.3,1667) scale(1.14,1)" font-size="80" text-anchor="middle">80</text>
<text class="h" x="994.6" y="927.8" font-size="51" text-anchor="end">0</text>
<text class="h" x="994.6" y="660.4" font-size="51" text-anchor="end">1</text>
<text class="h" x="994.6" y="393.0" font-size="51" text-anchor="end">2</text>
<text class="h" x="994.6" y="125.6" font-size="51" text-anchor="end">3</text>
<text class="h" x="1035.6" y="1001" font-size="51" text-anchor="middle">0</text>
<text class="h" x="1318.6" y="1001" font-size="51" text-anchor="middle">20</text>
<text class="h" x="1601.6" y="1001" font-size="51" text-anchor="middle">40</text>
<text class="h" x="1884.6" y="1001" font-size="51" text-anchor="middle">60</text>
<polyline shape-rendering="crispEdges" points="1374.5,97.5 1400.0,97.5 1425.5,97.5" fill="none" stroke="#000" stroke-width="3.0" stroke-linejoin="round"/>
<polyline points="1374.5,97.5 1400.0,97.5 1425.5,97.5" fill="none" stroke="none" marker-mid="url(#nk)"/>
<text class="h" x="1436.6" y="113.5" font-size="53.65">0.05 Oe, 300 Hz</text>
<polyline shape-rendering="crispEdges" points="1374.5,182.5 1400.0,182.5 1425.5,182.5" fill="none" stroke="#f00" stroke-width="3.0" stroke-linejoin="round"/>
<polyline points="1374.5,182.5 1400.0,182.5 1425.5,182.5" fill="none" stroke="none" marker-mid="url(#nr)"/>
<text class="h" x="1436.6" y="198.5" font-size="53.65">0.5 Oe, 300 Hz</text>
<polyline shape-rendering="crispEdges" points="1374.5,267.5 1400.0,267.5 1425.5,267.5" fill="none" stroke="#00f" stroke-width="3.0" stroke-linejoin="round"/>
<polyline points="1374.5,267.5 1400.0,267.5 1425.5,267.5" fill="none" stroke="none" marker-mid="url(#nb)"/>
<text class="h" x="1436.6" y="283.5" font-size="53.65">5 Oe, 300 Hz</text>
<polyline shape-rendering="crispEdges" points="517.2,947.0 560.0,947.0 603.2,947.0" fill="none" stroke="#000" stroke-width="5" stroke-linejoin="round"/>
<polyline points="517.2,947.0 560.0,947.0 603.2,947.0" fill="none" stroke="none" marker-mid="url(#mk)"/>
<text class="s" x="622" y="973.5" font-size="72.5">2 Hz</text>
<polyline shape-rendering="crispEdges" points="517.2,1069.2 560.0,1069.2 603.2,1069.2" fill="none" stroke="#f00" stroke-width="5" stroke-linejoin="round"/>
<polyline points="517.2,1069.2 560.0,1069.2 603.2,1069.2" fill="none" stroke="none" marker-mid="url(#mr)"/>
<text class="s" x="622" y="1095.7" font-size="72.5">7 Hz</text>
<polyline shape-rendering="crispEdges" points="517.2,1191.4 560.0,1191.4 603.2,1191.4" fill="none" stroke="#00f" stroke-width="5" stroke-linejoin="round"/>
<polyline points="517.2,1191.4 560.0,1191.4 603.2,1191.4" fill="none" stroke="none" marker-mid="url(#mb)"/>
<text class="s" x="622" y="1217.9" font-size="72.5">110 Hz</text>
<polyline shape-rendering="crispEdges" points="517.2,1313.6 560.0,1313.6 603.2,1313.6" fill="none" stroke="#008000" stroke-width="5" stroke-linejoin="round"/>
<polyline points="517.2,1313.6 560.0,1313.6 603.2,1313.6" fill="none" stroke="none" marker-mid="url(#mg)"/>
<text class="s" x="622" y="1340.1" font-size="72.5">300 Hz</text>
<polyline shape-rendering="crispEdges" points="517.2,1435.8 560.0,1435.8 603.2,1435.8" fill="none" stroke="#940080" stroke-width="5" stroke-linejoin="round"/>
<polyline points="517.2,1435.8 560.0,1435.8 603.2,1435.8" fill="none" stroke="none" marker-mid="url(#mp)"/>
<text class="s" x="622" y="1462.3" font-size="72.5">500 Hz</text>
<text class="t" x="596.5" y="855" font-size="84"><tspan font-style="italic">f</tspan> =</text>
<text class="t" x="1690.5" y="1235.1" font-size="82.5"><tspan font-style="italic">H</tspan><tspan font-size="56" dy="6">ac</tspan><tspan dy="-6"> = 5 Oe</tspan></text>
<text class="t" x="1690.5" y="1331.8" font-size="82.5"><tspan font-style="italic">H</tspan><tspan font-size="56" dy="6">dc</tspan><tspan dy="-6"> = 0 Oe</tspan></text>
<text class="t" x="1911" y="159.5" font-size="113.5">(a)</text>
<text class="c" transform="translate(85.7,1260.4) rotate(-90)" font-size="80">χ</text>
<text class="t" transform="translate(78.7,1174.9) rotate(-90)" font-size="72">’</text>
<text class="t" transform="translate(85.7,1088.6) rotate(-90)" font-size="84">(emu</text>
<text class="x" transform="translate(89.4,927.6) rotate(-90)" font-size="82">×</text>
<text class="t" transform="translate(85.7,842.8) rotate(-90)" font-size="84">mol</text>
<text class="t" transform="translate(62.3,713.4) rotate(-90)" font-size="55">−</text>
<text class="t" transform="translate(55.0,660.5) rotate(-90)" font-size="55">1</text>
<text class="x" transform="translate(89.4,646.8) rotate(-90)" font-size="82">×</text>
<text class="t" transform="translate(85.7,561.0) rotate(-90)" font-size="84">Oe</text>
<text class="t" transform="translate(62.3,464.8) rotate(-90)" font-size="55">−</text>
<text class="t" transform="translate(55.0,413.2) rotate(-90)" font-size="55">1</text>
<text class="t" transform="translate(85.7,386.6) rotate(-90)" font-size="84">)</text>
<polyline shape-rendering="crispEdges" points="426.7,2733.0 437.8,2668.9 448.9,2593.9 460.0,2514.4 471.1,2425.8 482.1,2342.1 493.2,2254.1 504.3,2165.8 515.4,2080.7 526.5,2001.9 537.6,1932.9 548.7,1873.8 559.8,1826.2 570.9,1795.8 582.0,1773.7 593.1,1762.2 604.2,1734.2 626.4,1834.4 648.5,1987.1 670.7,2134.7 692.9,2304.9 715.1,2476.7 737.3,2629.9 759.5,2752.7 781.7,2838.0 803.9,2895.5 826.0,2928.1 848.2,2953.3 870.4,2967.0 892.6,2976.0 914.8,2977.1 937.0,2977.1 959.2,2977.1 981.4,2977.1 1003.5,2977.1 1025.7,2977.1 1047.9,2977.1 1070.1,2977.1 1092.3,2977.1 1114.5,2973.5 1136.7,2972.0 1158.9,2973.3 1181.0,2972.3 1203.2,2974.0 1225.4,2975.2 1247.6,2975.3 1269.8,2972.5 1292.0,2970.1 1314.2,2972.6 1336.4,2973.6 1358.5,2970.5 1380.7,2972.6 1402.9,2972.8 1425.1,2972.6 1447.3,2973.1 1469.5,2973.3 1491.7,2974.7 1513.9,2972.2 1536.0,2973.0 1558.2,2971.3 1580.4,2973.3 1602.6,2975.3 1624.8,2973.0 1647.0,2970.6 1669.2,2973.3 1691.4,2974.0 1713.5,2974.3 1757.9,2973.5 1802.3,2973.1 1846.7,2973.8 1891.0,2972.1 1935.4,2973.3 1979.8,2973.1 2024.2,2972.3 2068.6,2972.3 2112.9,2973.5 2157.3,2973.2" fill="none" stroke="#000" stroke-width="5" stroke-linejoin="round"/>
<polyline shape-rendering="crispEdges" points="426.7,2744.4 437.8,2683.7 448.9,2615.7 460.0,2539.0 471.1,2458.5 482.1,2378.2 493.2,2294.4 504.3,2214.1 515.4,2139.8 526.5,2069.1 537.6,2006.8 548.7,1951.0 559.8,1913.2 570.9,1883.6 582.0,1869.0 593.1,1860.7 604.2,1855.8 626.4,1957.7 648.5,2102.1 670.7,2240.3 692.9,2388.9 715.1,2541.3 737.3,2677.8 759.5,2784.4 781.7,2860.9 803.9,2910.2 826.0,2938.1 848.2,2959.4 870.4,2971.0 892.6,2976.0 914.8,2976.0 937.0,2976.0 959.2,2976.0 981.4,2976.0 1003.5,2976.0 1025.7,2976.0 1047.9,2976.0 1070.1,2976.0 1092.3,2976.0 1114.5,2972.1 1136.7,2972.4 1158.9,2972.5 1181.0,2971.0 1203.2,2972.4 1225.4,2972.6 1247.6,2971.7 1269.8,2972.0 1292.0,2972.1 1314.2,2971.6 1336.4,2971.7 1358.5,2971.8 1380.7,2971.4 1402.9,2971.8 1425.1,2972.4 1447.3,2972.2 1469.5,2972.3 1491.7,2971.8 1513.9,2972.7 1536.0,2973.1 1558.2,2971.9 1580.4,2972.8 1602.6,2973.2 1624.8,2971.7 1647.0,2972.4 1669.2,2971.6 1691.4,2972.2 1713.5,2972.6 1757.9,2972.4 1802.3,2972.3 1846.7,2972.3 1891.0,2972.6 1935.4,2972.5 1979.8,2973.0 2024.2,2972.6 2068.6,2973.3 2112.9,2972.9 2157.3,2972.7" fill="none" stroke="#f00" stroke-width="5" stroke-linejoin="round"/>
<polyline shape-rendering="crispEdges" points="426.7,2764.1 437.8,2711.6 448.9,2644.2 460.0,2578.3 471.1,2502.9 482.1,2427.4 493.2,2343.7 504.3,2261.6 515.4,2185.8 526.5,2116.8 537.6,2054.4 548.7,1995.3 559.8,1951.0 570.9,1926.3 582.0,1913.2 593.1,1910.6 604.2,1913.2 626.4,2039.6 648.5,2195.7 670.7,2350.3 692.9,2488.1 715.1,2634.1 737.3,2746.1 759.5,2833.1 781.7,2900.3 803.9,2941.4 826.0,2961.1 848.2,2978.0 870.4,2986.3 892.6,2990.0 914.8,2990.0 937.0,2987.7 959.2,2986.4 981.4,2985.1 1003.5,2982.4 1025.7,2982.0 1047.9,2981.7 1070.1,2980.1 1092.3,2979.9 1114.5,2978.8 1136.7,2979.5 1158.9,2975.2 1181.0,2979.3 1203.2,2976.6 1225.4,2976.3 1247.6,2977.1 1269.8,2978.9 1292.0,2976.1 1314.2,2978.6 1336.4,2978.5 1358.5,2977.5 1380.7,2976.2 1402.9,2976.7 1425.1,2976.2 1447.3,2977.4 1469.5,2977.1 1491.7,2978.1 1513.9,2977.2 1536.0,2976.3 1558.2,2977.2 1580.4,2976.3 1602.6,2977.4 1624.8,2977.4 1647.0,2976.7 1669.2,2976.9 1691.4,2976.1 1713.5,2976.5 1757.9,2975.7 1802.3,2976.7 1846.7,2976.6 1891.0,2977.0 1935.4,2976.3 1979.8,2975.9 2024.2,2976.6 2068.6,2976.2 2112.9,2975.7 2157.3,2976.1" fill="none" stroke="#00f" stroke-width="5" stroke-linejoin="round"/>
<polyline shape-rendering="crispEdges" points="426.7,2772.4 437.8,2723.1 448.9,2668.9 460.0,2602.3 471.1,2535.8 482.1,2460.2 493.2,2385.7 504.3,2306.0 515.4,2228.8 526.5,2164.5 537.6,2100.4 548.7,2044.6 559.8,2005.1 570.9,1972.4 582.0,1962.6 593.1,1962.6 604.2,1972.4 626.4,2113.5 648.5,2328.9 670.7,2509.5 692.9,2650.9 715.1,2758.5 737.3,2859.4 759.5,2929.9 781.7,2977.5 803.9,3002.2 826.0,3013.6 848.2,3024.0 870.4,3026.6 892.6,3019.5 914.8,3013.0 937.0,3009.7 959.2,3004.8 981.4,3001.4 1003.5,2995.0 1025.7,2995.0 1047.9,2993.3 1070.1,2991.6 1092.3,2990.0 1114.5,2988.4 1136.7,2985.8 1158.9,2986.8 1181.0,2988.3 1203.2,2985.9 1225.4,2985.0 1247.6,2987.0 1269.8,2986.4 1292.0,2988.9 1314.2,2983.5 1336.4,2985.5 1358.5,2987.5 1380.7,2986.6 1402.9,2983.8 1425.1,2981.9 1447.3,2982.9 1469.5,2981.7 1491.7,2983.8 1513.9,2983.8 1536.0,2980.0 1558.2,2980.3 1580.4,2980.7 1602.6,2978.4 1624.8,2981.5 1647.0,2980.3 1669.2,2977.7 1691.4,2976.1 1713.5,2978.6 1757.9,2977.3 1802.3,2979.1 1846.7,2978.4 1891.0,2978.8 1935.4,2979.9 1979.8,2978.4 2024.2,2977.9 2068.6,2978.7 2112.9,2978.7 2157.3,2977.5" fill="none" stroke="#008000" stroke-width="5" stroke-linejoin="round"/>
<polyline shape-rendering="crispEdges" points="426.7,2798.6 437.8,2751.0 448.9,2695.1 460.0,2626.2 471.1,2558.8 482.1,2486.5 493.2,2415.3 504.3,2335.5 515.4,2253.3 526.5,2184.3 537.6,2121.8 548.7,2062.5 559.8,2020.0 570.9,1987.1 582.0,1969.1 593.1,1969.1 604.2,1980.5 626.4,2126.6 648.5,2368.3 670.7,2559.7 692.9,2711.6 715.1,2808.6 737.3,2903.7 759.5,2967.7 781.7,3013.6 803.9,3038.3 826.0,3043.2 848.2,3049.4 870.4,3049.4 892.6,3041.9 914.8,3031.0 937.0,3022.8 959.2,3019.5 981.4,3013.0 1003.5,3006.4 1025.7,3006.4 1047.9,3004.2 1070.1,3003.1 1092.3,3001.4 1114.5,2983.3 1136.7,2982.5 1158.9,2988.2 1181.0,2980.4 1203.2,2982.0 1225.4,2987.2 1247.6,2992.2 1269.8,2987.1 1292.0,2986.8 1314.2,2992.4 1336.4,2987.0 1358.5,2987.7 1380.7,2989.1 1402.9,2985.9 1425.1,2985.1 1447.3,2988.7 1469.5,2987.1 1491.7,2989.2 1513.9,2989.2 1536.0,2986.9 1558.2,2985.6 1580.4,2987.9 1602.6,2991.4 1624.8,2984.6 1647.0,2989.4 1669.2,2985.1 1691.4,2981.0 1713.5,2978.7 1757.9,2981.3 1802.3,2986.8 1846.7,2978.6 1891.0,2979.9 1935.4,2979.3 1979.8,2978.8 2024.2,2980.0 2068.6,2980.3 2112.9,2981.0 2157.3,2983.5" fill="none" stroke="#940080" stroke-width="5" stroke-linejoin="round"/>
<polyline points="426.7,2733.0 437.8,2668.9 448.9,2593.9 460.0,2514.4 471.1,2425.8 482.1,2342.1 493.2,2254.1 504.3,2165.8 515.4,2080.7 526.5,2001.9 537.6,1932.9 548.7,1873.8 559.8,1826.2 570.9,1795.8 582.0,1773.7 593.1,1762.2 604.2,1734.2 626.4,1834.4 648.5,1987.1 670.7,2134.7 692.9,2304.9 715.1,2476.7 737.3,2629.9 759.5,2752.7 781.7,2838.0 803.9,2895.5 826.0,2928.1 848.2,2953.3 870.4,2967.0 892.6,2976.0 914.8,2977.1 937.0,2977.1 959.2,2977.1 981.4,2977.1 1003.5,2977.1 1025.7,2977.1 1047.9,2977.1 1070.1,2977.1 1092.3,2977.1 1114.5,2973.5 1136.7,2972.0 1158.9,2973.3 1181.0,2972.3 1203.2,2974.0 1225.4,2975.2 1247.6,2975.3 1269.8,2972.5 1292.0,2970.1 1314.2,2972.6 1336.4,2973.6 1358.5,2970.5 1380.7,2972.6 1402.9,2972.8 1425.1,2972.6 1447.3,2973.1 1469.5,2973.3 1491.7,2974.7 1513.9,2972.2 1536.0,2973.0 1558.2,2971.3 1580.4,2973.3 1602.6,2975.3 1624.8,2973.0 1647.0,2970.6 1669.2,2973.3 1691.4,2974.0 1713.5,2974.3 1757.9,2973.5 1802.3,2973.1 1846.7,2973.8 1891.0,2972.1 1935.4,2973.3 1979.8,2973.1 2024.2,2972.3 2068.6,2972.3 2112.9,2973.5 2157.3,2973.2" fill="none" stroke="none" marker-mid="url(#mk)" marker-start="url(#mk)" marker-end="url(#mk)"/>
<polyline points="426.7,2744.4 437.8,2683.7 448.9,2615.7 460.0,2539.0 471.1,2458.5 482.1,2378.2 493.2,2294.4 504.3,2214.1 515.4,2139.8 526.5,2069.1 537.6,2006.8 548.7,1951.0 559.8,1913.2 570.9,1883.6 582.0,1869.0 593.1,1860.7 604.2,1855.8 626.4,1957.7 648.5,2102.1 670.7,2240.3 692.9,2388.9 715.1,2541.3 737.3,2677.8 759.5,2784.4 781.7,2860.9 803.9,2910.2 826.0,2938.1 848.2,2959.4 870.4,2971.0 892.6,2976.0 914.8,2976.0 937.0,2976.0 959.2,2976.0 981.4,2976.0 1003.5,2976.0 1025.7,2976.0 1047.9,2976.0 1070.1,2976.0 1092.3,2976.0 1114.5,2972.1 1136.7,2972.4 1158.9,2972.5 1181.0,2971.0 1203.2,2972.4 1225.4,2972.6 1247.6,2971.7 1269.8,2972.0 1292.0,2972.1 1314.2,2971.6 1336.4,2971.7 1358.5,2971.8 1380.7,2971.4 1402.9,2971.8 1425.1,2972.4 1447.3,2972.2 1469.5,2972.3 1491.7,2971.8 1513.9,2972.7 1536.0,2973.1 1558.2,2971.9 1580.4,2972.8 1602.6,2973.2 1624.8,2971.7 1647.0,2972.4 1669.2,2971.6 1691.4,2972.2 1713.5,2972.6 1757.9,2972.4 1802.3,2972.3 1846.7,2972.3 1891.0,2972.6 1935.4,2972.5 1979.8,2973.0 2024.2,2972.6 2068.6,2973.3 2112.9,2972.9 2157.3,2972.7" fill="none" stroke="none" marker-mid="url(#mr)" marker-start="url(#mr)" marker-end="url(#mr)"/>
<polyline points="426.7,2764.1 437.8,2711.6 448.9,2644.2 460.0,2578.3 471.1,2502.9 482.1,2427.4 493.2,2343.7 504.3,2261.6 515.4,2185.8 526.5,2116.8 537.6,2054.4 548.7,1995.3 559.8,1951.0 570.9,1926.3 582.0,1913.2 593.1,1910.6 604.2,1913.2 626.4,2039.6 648.5,2195.7 670.7,2350.3 692.9,2488.1 715.1,2634.1 737.3,2746.1 759.5,2833.1 781.7,2900.3 803.9,2941.4 826.0,2961.1 848.2,2978.0 870.4,2986.3 892.6,2990.0 914.8,2990.0 937.0,2987.7 959.2,2986.4 981.4,2985.1 1003.5,2982.4 1025.7,2982.0 1047.9,2981.7 1070.1,2980.1 1092.3,2979.9 1114.5,2978.8 1136.7,2979.5 1158.9,2975.2 1181.0,2979.3 1203.2,2976.6 1225.4,2976.3 1247.6,2977.1 1269.8,2978.9 1292.0,2976.1 1314.2,2978.6 1336.4,2978.5 1358.5,2977.5 1380.7,2976.2 1402.9,2976.7 1425.1,2976.2 1447.3,2977.4 1469.5,2977.1 1491.7,2978.1 1513.9,2977.2 1536.0,2976.3 1558.2,2977.2 1580.4,2976.3 1602.6,2977.4 1624.8,2977.4 1647.0,2976.7 1669.2,2976.9 1691.4,2976.1 1713.5,2976.5 1757.9,2975.7 1802.3,2976.7 1846.7,2976.6 1891.0,2977.0 1935.4,2976.3 1979.8,2975.9 2024.2,2976.6 2068.6,2976.2 2112.9,2975.7 2157.3,2976.1" fill="none" stroke="none" marker-mid="url(#mb)" marker-start="url(#mb)" marker-end="url(#mb)"/>
<polyline points="426.7,2772.4 437.8,2723.1 448.9,2668.9 460.0,2602.3 471.1,2535.8 482.1,2460.2 493.2,2385.7 504.3,2306.0 515.4,2228.8 526.5,2164.5 537.6,2100.4 548.7,2044.6 559.8,2005.1 570.9,1972.4 582.0,1962.6 593.1,1962.6 604.2,1972.4 626.4,2113.5 648.5,2328.9 670.7,2509.5 692.9,2650.9 715.1,2758.5 737.3,2859.4 759.5,2929.9 781.7,2977.5 803.9,3002.2 826.0,3013.6 848.2,3024.0 870.4,3026.6 892.6,3019.5 914.8,3013.0 937.0,3009.7 959.2,3004.8 981.4,3001.4 1003.5,2995.0 1025.7,2995.0 1047.9,2993.3 1070.1,2991.6 1092.3,2990.0 1114.5,2988.4 1136.7,2985.8 1158.9,2986.8 1181.0,2988.3 1203.2,2985.9 1225.4,2985.0 1247.6,2987.0 1269.8,2986.4 1292.0,2988.9 1314.2,2983.5 1336.4,2985.5 1358.5,2987.5 1380.7,2986.6 1402.9,2983.8 1425.1,2981.9 1447.3,2982.9 1469.5,2981.7 1491.7,2983.8 1513.9,2983.8 1536.0,2980.0 1558.2,2980.3 1580.4,2980.7 1602.6,2978.4 1624.8,2981.5 1647.0,2980.3 1669.2,2977.7 1691.4,2976.1 1713.5,2978.6 1757.9,2977.3 1802.3,2979.1 1846.7,2978.4 1891.0,2978.8 1935.4,2979.9 1979.8,2978.4 2024.2,2977.9 2068.6,2978.7 2112.9,2978.7 2157.3,2977.5" fill="none" stroke="none" marker-mid="url(#mg)" marker-start="url(#mg)" marker-end="url(#mg)"/>
<polyline points="426.7,2798.6 437.8,2751.0 448.9,2695.1 460.0,2626.2 471.1,2558.8 482.1,2486.5 493.2,2415.3 504.3,2335.5 515.4,2253.3 526.5,2184.3 537.6,2121.8 548.7,2062.5 559.8,2020.0 570.9,1987.1 582.0,1969.1 593.1,1969.1 604.2,1980.5 626.4,2126.6 648.5,2368.3 670.7,2559.7 692.9,2711.6 715.1,2808.6 737.3,2903.7 759.5,2967.7 781.7,3013.6 803.9,3038.3 826.0,3043.2 848.2,3049.4 870.4,3049.4 892.6,3041.9 914.8,3031.0 937.0,3022.8 959.2,3019.5 981.4,3013.0 1003.5,3006.4 1025.7,3006.4 1047.9,3004.2 1070.1,3003.1 1092.3,3001.4 1114.5,2983.3 1136.7,2982.5 1158.9,2988.2 1181.0,2980.4 1203.2,2982.0 1225.4,2987.2 1247.6,2992.2 1269.8,2987.1 1292.0,2986.8 1314.2,2992.4 1336.4,2987.0 1358.5,2987.7 1380.7,2989.1 1402.9,2985.9 1425.1,2985.1 1447.3,2988.7 1469.5,2987.1 1491.7,2989.2 1513.9,2989.2 1536.0,2986.9 1558.2,2985.6 1580.4,2987.9 1602.6,2991.4 1624.8,2984.6 1647.0,2989.4 1669.2,2985.1 1691.4,2981.0 1713.5,2978.7 1757.9,2981.3 1802.3,2986.8 1846.7,2978.6 1891.0,2979.9 1935.4,2979.3 1979.8,2978.8 2024.2,2980.0 2068.6,2980.3 2112.9,2981.0 2157.3,2983.5" fill="none" stroke="none" marker-mid="url(#mp)" marker-start="url(#mp)" marker-end="url(#mp)"/>
<rect class="ax" x="382.6" y="1689.5" width="1775.0" height="1543.1999999999998" style="stroke-linecap:butt"/>
<path class="ax" d="M382.6 3232.7H357.5M382.6 3103.1H363.4M382.6 2973.4H357.5M382.6 2843.8H363.4M382.6 2714.2H357.5M382.6 2584.5H363.4M382.6 2454.9H357.5M382.6 2325.3H363.4M382.6 2195.7H357.5M382.6 2066.0H363.4M382.6 1936.4H357.5M382.6 1806.8H363.4M382.6 3232.7V3257.3M493.5 3232.7V3251.4M604.5 3232.7V3251.4M715.4 3232.7V3251.4M826.4 3232.7V3257.3M937.3 3232.7V3251.4M1048.2 3232.7V3251.4M1159.2 3232.7V3251.4M1270.1 3232.7V3257.3M1381.0 3232.7V3251.4M1492.0 3232.7V3251.4M1602.9 3232.7V3251.4M1713.8 3232.7V3257.3M1824.8 3232.7V3251.4M1935.7 3232.7V3251.4M2046.7 3232.7V3251.4M2157.6 3232.7V3257.3"/>
<text class="s" x="321.3" y="3261.2" font-size="74.5" text-anchor="end"><tspan class="h" font-size="70">−</tspan>0.02</text>
<text class="s" x="321.3" y="3001.9" font-size="74.5" text-anchor="end">0.00</text>
<text class="s" x="321.3" y="2742.7" font-size="74.5" text-anchor="end">0.02</text>
<text class="s" x="321.3" y="2483.4" font-size="74.5" text-anchor="end">0.04</text>
<text class="s" x="321.3" y="2224.2" font-size="74.5" text-anchor="end">0.06</text>
<text class="s" x="321.3" y="1964.9" font-size="74.5" text-anchor="end">0.08</text>
<text class="s" x="382.6" y="3374.5" font-size="74.5" text-anchor="middle">0</text>
<text class="s" x="826.4" y="3374.5" font-size="74.5" text-anchor="middle">20</text>
<text class="s" x="1270.1" y="3374.5" font-size="74.5" text-anchor="middle">40</text>
<text class="s" x="1713.8" y="3374.5" font-size="74.5" text-anchor="middle">60</text>
<text class="s" x="2157.6" y="3374.5" font-size="74.5" text-anchor="middle">80</text>
<text class="t" x="1002.3" y="3471.4" font-size="83.6">Temperature (K)</text>
<text class="t" x="1913.8" y="1821" font-size="113.5">(b)</text>
<text class="t" x="1168" y="2025.4" font-size="83">NdMn<tspan font-size="50" letter-spacing="2.4" dy="6.4">3</tspan><tspan dy="-6.4">Ni</tspan><tspan font-size="50" letter-spacing="2.4" dy="6.4">2</tspan><tspan dy="-6.4">Mn</tspan><tspan font-size="50" letter-spacing="2.4" dy="6.4">2</tspan><tspan dy="-6.4">O</tspan><tspan font-size="50" letter-spacing="2.4" dy="6.4">12</tspan></text>
<text class="t" x="1014" y="2128" font-size="83.2">(<tspan font-style="italic">Pn</tspan>–3; prepared at 1500 K)</text>
<polyline shape-rendering="crispEdges" points="460.4,2816.0 504.1,2816.0 549.0,2816.0" fill="none" stroke="#000" stroke-width="5" stroke-linejoin="round"/>
<polyline points="460.4,2816.0 504.1,2816.0 549.0,2816.0" fill="none" stroke="none" marker-mid="url(#mk)"/>
<text class="s" x="560.5" y="2833.7" font-size="49.4" style="stroke-width:.3px">2 Hz</text>
<polyline shape-rendering="crispEdges" points="460.4,2911.9 504.1,2911.9 549.0,2911.9" fill="none" stroke="#f00" stroke-width="5" stroke-linejoin="round"/>
<polyline points="460.4,2911.9 504.1,2911.9 549.0,2911.9" fill="none" stroke="none" marker-mid="url(#mr)"/>
<text class="s" x="560.5" y="2929.6" font-size="49.4" style="stroke-width:.3px">7 Hz</text>
<polyline shape-rendering="crispEdges" points="460.4,3007.8 504.1,3007.8 549.0,3007.8" fill="none" stroke="#00f" stroke-width="5" stroke-linejoin="round"/>
<polyline points="460.4,3007.8 504.1,3007.8 549.0,3007.8" fill="none" stroke="none" marker-mid="url(#mb)"/>
<text class="s" x="560.5" y="3025.5" font-size="49.4" style="stroke-width:.3px">110 Hz</text>
<polyline shape-rendering="crispEdges" points="460.4,3103.7 504.1,3103.7 549.0,3103.7" fill="none" stroke="#008000" stroke-width="5" stroke-linejoin="round"/>
<polyline points="460.4,3103.7 504.1,3103.7 549.0,3103.7" fill="none" stroke="none" marker-mid="url(#mg)"/>
<text class="s" x="560.5" y="3121.4" font-size="49.4" style="stroke-width:.3px">300 Hz</text>
<polyline shape-rendering="crispEdges" points="460.4,3199.6 504.1,3199.6 549.0,3199.6" fill="none" stroke="#940080" stroke-width="5" stroke-linejoin="round"/>
<polyline points="460.4,3199.6 504.1,3199.6 549.0,3199.6" fill="none" stroke="none" marker-mid="url(#mp)"/>
<text class="s" x="560.5" y="3217.3" font-size="49.4" style="stroke-width:.3px">500 Hz</text>
<text class="c" transform="translate(103.8,2969.1) rotate(-90)" font-size="80">χ</text>
<text class="t" transform="translate(96.8,2882.0) rotate(-90)" font-size="72">’</text>
<text class="t" transform="translate(96.8,2806.6) rotate(-90)" font-size="72">’</text>
<text class="t" transform="translate(103.8,2720.3) rotate(-90)" font-size="84">(emu</text>
<text class="x" transform="translate(107.5,2559.3) rotate(-90)" font-size="82">×</text>
<text class="t" transform="translate(103.8,2474.5) rotate(-90)" font-size="84">mol</text>
<text class="t" transform="translate(80.4,2345.1) rotate(-90)" font-size="55">−</text>
<text class="t" transform="translate(73.1,2292.2) rotate(-90)" font-size="55">1</text>
<text class="x" transform="translate(107.5,2278.5) rotate(-90)" font-size="82">×</text>
<text class="t" transform="translate(103.8,2192.7) rotate(-90)" font-size="84">Oe</text>
<text class="t" transform="translate(80.4,2096.5) rotate(-90)" font-size="55">−</text>
<text class="t" transform="translate(73.1,2044.9) rotate(-90)" font-size="55">1</text>
<text class="t" transform="translate(103.8,2018.3) rotate(-90)" font-size="84">)</text>
</svg></body></html>
